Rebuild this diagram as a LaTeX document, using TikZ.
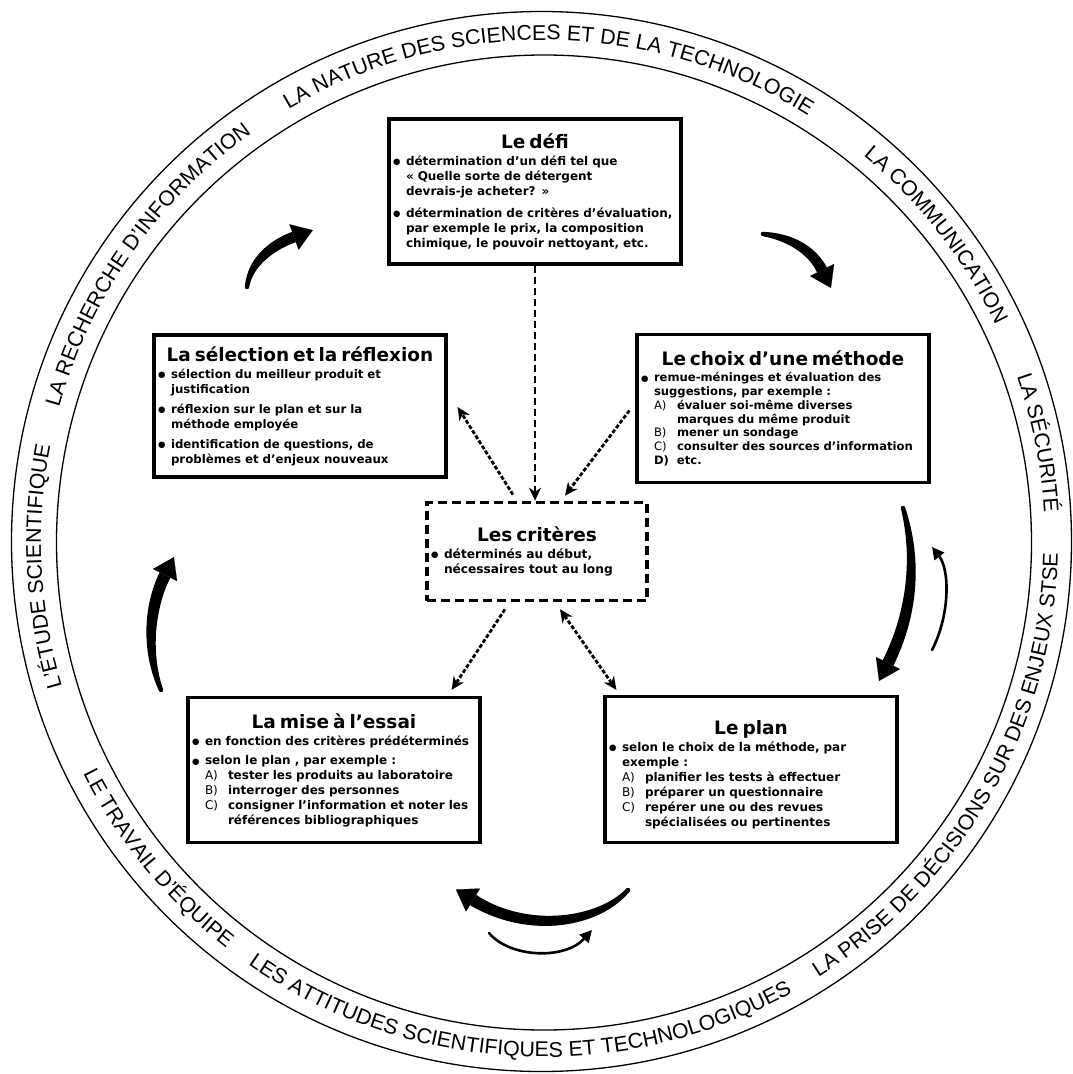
\documentclass[tikz,border=0pt]{standalone}
\usepackage{fontspec}
\setmainfont{DejaVu Sans}
\newfontfamily\bandfont{Liberation Sans}
\usetikzlibrary{decorations.text,arrows.meta,calc}
\newcommand\bandstyle{\bandfont\fontsize{21.3}{21.3}\selectfont}
\newcommand\bandcw[3]{\path[decorate,decoration={text along path,text align=center,text={|\bandstyle|#3}}] ([shift={(#1+#2:502)}]C) arc[start angle=#1+#2, end angle=#1-#2, radius=502];}
\newcommand\bandccw[3]{\path[decorate,decoration={text along path,text align=center,text={|\bandstyle|#3}}] ([shift={(#1-#2:515)}]C) arc[start angle=#1-#2, end angle=#1+#2, radius=515];}
\newcommand\boxtitle[1]{{\centering\fontsize{18.5}{22}\selectfont #1\par}\vspace{2pt}}
\newcommand\bul{\makebox[13pt][l]{\raisebox{0.6pt}{\fontsize{8.5}{8.5}\selectfont ●}}}
\newcommand\bitem{\par\hangindent=13pt\hangafter=1\noindent\bul}
\newcommand\subit[1]{\par\hangindent=36pt\hangafter=1\noindent\hspace*{13pt}\makebox[23pt][l]{#1}}
% tapered brush arrow: start, control 1, control 2, neck, half width
\newcommand\brush[5]{%
  \fill (#1) circle[radius=2.2pt];
  \fill ($(#1)!2.2pt!90:(#2)$) .. controls ($(#2)!{0.8*#5}!90:(#3)$) and ($(#3)!#5!-90:(#2)$) .. ($(#4)!#5!-90:(#3)$)
     -- ($(#4)!#5!90:(#3)$) .. controls ($(#3)!#5!90:(#2)$) and ($(#2)!{0.8*#5}!-90:(#3)$) .. ($(#1)!2.2pt!-90:(#2)$) -- cycle;
  \draw[line width=0.1pt, -{Triangle[length=20pt,width=27pt]}] (#4) -- ($(#4)!-20pt!(#3)$);}
\begin{document}
\begin{tikzpicture}[x=1pt,y=1pt,
  box/.style={draw, line width=3.2pt, fill=white, inner xsep=4pt, inner ysep=2pt, align=left},
  dotarr/.style={line width=2.8pt, dash pattern=on 4pt off 2pt, -{Stealth[length=13pt,width=12pt]}},
  dotdbl/.style={line width=2.8pt, dash pattern=on 4pt off 2pt, {Stealth[length=13pt,width=12pt]}-{Stealth[length=13pt,width=12pt]}},
  thinarr/.style={line width=2.6pt, line cap=round, -{Triangle[length=12pt,width=12pt]}}
]
\useasboundingbox (0,0) rectangle (1073,-1074);
\fill[white] (0,0) rectangle (1073,-1074);
% ring
\coordinate (C) at (543,-542);
\draw[line width=1.3pt] (541.5,-541.5) circle[radius=530];
\draw[line width=1.3pt] (544,-542.5) circle[radius=487.5];
% ring texts
\bandcw{89.3}{45}{LA NATURE DES SCIENCES ET DE LA TECHNOLOGIE}
\bandcw{38}{30}{LA COMMUNICATION}
\bandcw{11.3}{15}{LA SÉCURITÉ}
\bandcw{182.8}{25}{L’ÉTUDE SCIENTIFIQUE}
\bandcw{145}{30}{LA RECHERCHE D’INFORMATION}
\bandccw{-29.5}{40}{LA PRISE DE DÉCISIONS SUR DES ENJEUX STSE}
\bandccw{-93}{45}{LES ATTITUDES SCIENTIFIQUES ET TECHNOLOGIQUES}
\bandccw{219.4}{25}{LE TRAVAIL D’ÉQUIPE}

% boxes
\node[box, text width=284pt, minimum height=145pt, font=\bfseries\fontsize{12}{15}\selectfont] (defi) at (535,-191.5) {%
\boxtitle{Le défi}
\bitem détermination d’un défi tel que\newline « Quelle sorte de détergent\newline devrais-je acheter? »\par\vspace{7pt}
\bitem détermination de critères d’évaluation,\newline par exemple le prix, la composition\newline chimique, le pouvoir nettoyant, etc.\par};

\node[box, text width=284pt, minimum height=142pt, font=\bfseries\fontsize{11.8}{15}\selectfont] (selection) at (300,-406) {%
\boxtitle{La sélection et la réflexion}
\bitem sélection du meilleur produit et\newline justification\par\vspace{5pt}
\bitem réflexion sur le plan et sur la\newline méthode employée\par\vspace{5pt}
\bitem identification de questions, de\newline problèmes et d’enjeux nouveaux\par};

\node[box, text width=284pt, minimum height=148pt, font=\bfseries\fontsize{11.6}{13.8}\selectfont] (choix) at (783,-408.5) {%
\boxtitle{Le choix d’une méthode}
\bitem remue-méninges et évaluation des\newline suggestions, par exemple :
\subit{\mdseries A)}évaluer soi-même diverses\newline marques du même produit
\subit{\mdseries B)}mener un sondage
\subit{\mdseries C)}consulter des sources d’information
\subit{D)}etc.\par};

\node[box, dash pattern=on 9pt off 5pt, line width=3.6pt, text width=212pt, minimum height=98pt, font=\bfseries\fontsize{12.2}{15}\selectfont] (criteres) at (537,-551.5) {%
\boxtitle{Les critères}
\bitem déterminés au début,\newline nécessaires tout au long\par};

\node[box, text width=284pt, minimum height=145pt, font=\bfseries\fontsize{12}{14.8}\selectfont] (mise) at (334,-770) {%
\boxtitle{La mise à l’essai}
\bitem en fonction des critères prédéterminés\par\vspace{5pt}
\bitem selon le plan , par exemple :
\subit{\mdseries A)}tester les produits au laboratoire
\subit{\mdseries B)}interroger des personnes
\subit{\mdseries C)}consigner l’information et noter les\newline références bibliographiques\par};

\node[box, text width=284pt, minimum height=146pt, font=\bfseries\fontsize{12}{15}\selectfont] (plan) at (751,-769.5) {%
\boxtitle{\rule{0pt}{24pt}Le plan}
\bitem selon le choix de la méthode, par\newline exemple :
\subit{\mdseries A)}planifier les tests à effectuer
\subit{\mdseries B)}préparer un questionnaire
\subit{\mdseries C)}repérer une ou des revues\newline spécialisées ou pertinentes\par};

% dotted connectors
\draw[line width=2.4pt, dash pattern=on 7pt off 4pt, -{Stealth[length=13pt,width=12pt]}] (defi.south) -- (defi.south |- criteres.north);
\draw[dotarr] ([xshift=-6pt,yshift=-2pt]choix.west) -- ([xshift=28pt,yshift=5pt]criteres.north);
\draw[dotarr] ([xshift=-24pt,yshift=6pt]criteres.north) -- ([xshift=10pt,yshift=-1pt]selection.east);
\draw[dotarr] ([xshift=-32pt,yshift=-7pt]criteres.south) -- ([xshift=-30pt,yshift=6pt]mise.north east);
\draw[dotdbl] ([xshift=23pt,yshift=-7pt]criteres.south) -- ([xshift=13pt,yshift=5pt]plan.north west);

% cycle arrows (brush strokes)
\coordinate (a1s) at (247,-287); \coordinate (a1c) at (250,-262); \coordinate (a1d) at (272,-245); \coordinate (a1e) at (294,-237);
\coordinate (a2s) at (763,-234); \coordinate (a2c) at (790,-237); \coordinate (a2d) at (812,-250); \coordinate (a2e) at (822,-270);
\coordinate (a3s) at (903,-508); \coordinate (a3c) at (918,-560); \coordinate (a3d) at (912,-615); \coordinate (a3e) at (888,-663);
\coordinate (a5s) at (628,-890); \coordinate (a5c) at (600,-922); \coordinate (a5d) at (530,-935); \coordinate (a5e) at (473,-900);
\coordinate (a7s) at (161,-690); \coordinate (a7c) at (145,-650); \coordinate (a7d) at (150,-605); \coordinate (a7e) at (165,-575);
\brush{a1s}{a1c}{a1d}{a1e}{5.5pt}
\brush{a2s}{a2c}{a2d}{a2e}{5.5pt}
\brush{a3s}{a3c}{a3d}{a3e}{6pt}
\brush{a5s}{a5c}{a5d}{a5e}{6pt}
\brush{a7s}{a7c}{a7d}{a7e}{6pt}
% thin arrows
\coordinate (a4s) at (932,-650); \coordinate (a4e) at (932,-547);
\coordinate (a6s) at (489,-933); \coordinate (a6e) at (592,-930);
\draw[thinarr] (a4s) .. controls (950,-615) and (950,-570) .. (a4e);
\draw[thinarr] (a6s) .. controls (510,-958) and (565,-960) .. (a6e);
\end{tikzpicture}
\end{document}
